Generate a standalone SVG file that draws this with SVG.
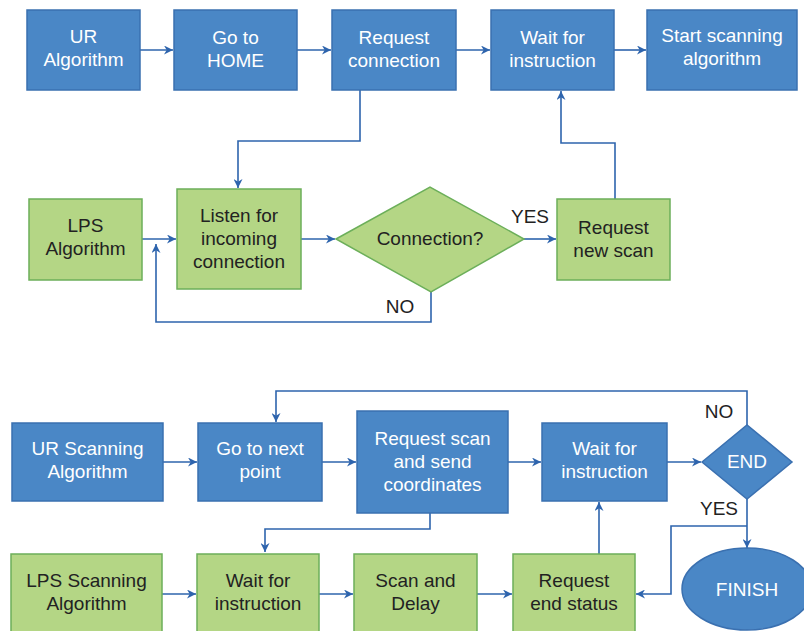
<svg xmlns="http://www.w3.org/2000/svg" width="804" height="631" viewBox="0 0 804 631">
<defs>
<marker id="ah" viewBox="0 0 10 10" refX="10" refY="5" markerWidth="9" markerHeight="9" markerUnits="userSpaceOnUse" orient="auto">
<path d="M0,0 L10,5 L0,10 L3,5 z" fill="#2e64ad"/>
</marker>
<style>
.b{fill:#4a87c6;stroke:#3a70b0;stroke-width:1.5}
.g{fill:#b4d685;stroke:#6caf5a;stroke-width:1.5}
.tw{font-family:"Liberation Sans",Arial,sans-serif;font-size:19px;fill:#ffffff;text-anchor:middle}
.tk{font-family:"Liberation Sans",Arial,sans-serif;font-size:19px;fill:#222222;text-anchor:middle}
.c{fill:none;stroke:#2e64ad;stroke-width:1.6;marker-end:url(#ah)}
.cn{fill:none;stroke:#2e64ad;stroke-width:1.6}
</style>
</defs>
<rect width="804" height="631" fill="#ffffff"/>
<g id="connectors">
<path class="c" d="M140,50 H173"/>
<path class="c" d="M297,50 H331"/>
<path class="c" d="M456,50 H490"/>
<path class="c" d="M614,50 H646"/>
<path class="c" d="M360,90 V141 H238 V188"/>
<path class="c" d="M142,239 H176"/>
<path class="c" d="M301,239 H335"/>
<path class="c" d="M524,239 H556"/>
<path class="c" d="M615,199 V143 H561 V91"/>
<path class="c" d="M431,292 V322 H156 V244"/>
<path class="c" d="M163,462 H197"/>
<path class="c" d="M322,462 H356"/>
<path class="c" d="M508,462 H541"/>
<path class="c" d="M667,462 H701"/>
<path class="c" d="M747,425 V391 H276 V422"/>
<path class="c" d="M430,513 V529 H265 V552"/>
<path class="c" d="M747,499 V548"/>
<path class="c" d="M747,526 H671 V594 H636"/>
<path class="c" d="M162,594 H196"/>
<path class="c" d="M319,594 H353"/>
<path class="c" d="M477,594 H512"/>
<path class="c" d="M599,554 V502"/>
</g>
<g id="ur-algorithm"><rect class="b" x="27" y="10" width="113" height="80"/><text class="tw" x="83.5" y="43">UR</text><text class="tw" x="83.5" y="66">Algorithm</text></g>
<g id="go-home"><rect class="b" x="174" y="10" width="123" height="80"/><text class="tw" x="235.5" y="44">Go to</text><text class="tw" x="235.5" y="67">HOME</text></g>
<g id="request-connection"><rect class="b" x="332" y="10" width="124" height="80"/><text class="tw" x="394" y="44">Request</text><text class="tw" x="394" y="67">connection</text></g>
<g id="wait-instruction-1"><rect class="b" x="491" y="10" width="123" height="80"/><text class="tw" x="552.5" y="44">Wait for</text><text class="tw" x="552.5" y="67">instruction</text></g>
<g id="start-scanning"><rect class="b" x="647" y="10" width="150" height="80"/><text class="tw" x="722" y="42">Start scanning</text><text class="tw" x="722" y="65">algorithm</text></g>
<g id="lps-algorithm"><rect class="g" x="29" y="199" width="113" height="81"/><text class="tk" x="85.5" y="232">LPS</text><text class="tk" x="85.5" y="255">Algorithm</text></g>
<g id="listen"><rect class="g" x="177" y="189" width="124" height="100"/><text class="tk" x="239" y="222">Listen for</text><text class="tk" x="239" y="245">incoming</text><text class="tk" x="239" y="268">connection</text></g>
<g id="connection-decision"><polygon class="g" points="336,239 430,187 524,239 431,292"/><text class="tk" x="430" y="245">Connection?</text></g>
<g id="request-new-scan"><rect class="g" x="557" y="199" width="113" height="81"/><text class="tk" x="613.5" y="234">Request</text><text class="tk" x="613.5" y="257">new scan</text></g>
<text class="tk" x="530" y="223">YES</text>
<text class="tk" x="400" y="313">NO</text>
<g id="ur-scanning"><rect class="b" x="12" y="423" width="151" height="78"/><text class="tw" x="87.5" y="455">UR Scanning</text><text class="tw" x="87.5" y="478">Algorithm</text></g>
<g id="go-next-point"><rect class="b" x="198" y="423" width="124" height="78"/><text class="tw" x="260" y="455">Go to next</text><text class="tw" x="260" y="478">point</text></g>
<g id="request-scan"><rect class="b" x="357" y="411" width="151" height="102"/><text class="tw" x="432.5" y="445">Request scan</text><text class="tw" x="432.5" y="468">and send</text><text class="tw" x="432.5" y="491">coordinates</text></g>
<g id="wait-instruction-2"><rect class="b" x="542" y="423" width="125" height="78"/><text class="tw" x="604.5" y="455">Wait for</text><text class="tw" x="604.5" y="478">instruction</text></g>
<g id="end-decision"><polygon class="b" points="702,462 747,425 792,462 747,499"/><text class="tw" x="747" y="468">END</text></g>
<g id="finish"><ellipse class="b" cx="747" cy="589" rx="65" ry="41"/><text class="tw" x="747" y="596">FINISH</text></g>
<text class="tk" x="719" y="418">NO</text>
<text class="tk" x="719" y="515">YES</text>
<g id="lps-scanning"><rect class="g" x="11" y="554" width="151" height="82"/><text class="tk" x="86.5" y="587">LPS Scanning</text><text class="tk" x="86.5" y="610">Algorithm</text></g>
<g id="wait-instruction-3"><rect class="g" x="197" y="554" width="122" height="82"/><text class="tk" x="258" y="587">Wait for</text><text class="tk" x="258" y="610">instruction</text></g>
<g id="scan-delay"><rect class="g" x="354" y="554" width="123" height="82"/><text class="tk" x="415.5" y="587">Scan and</text><text class="tk" x="415.5" y="610">Delay</text></g>
<g id="request-end-status"><rect class="g" x="513" y="554" width="122" height="82"/><text class="tk" x="574" y="587">Request</text><text class="tk" x="574" y="610">end status</text></g>
</svg>
